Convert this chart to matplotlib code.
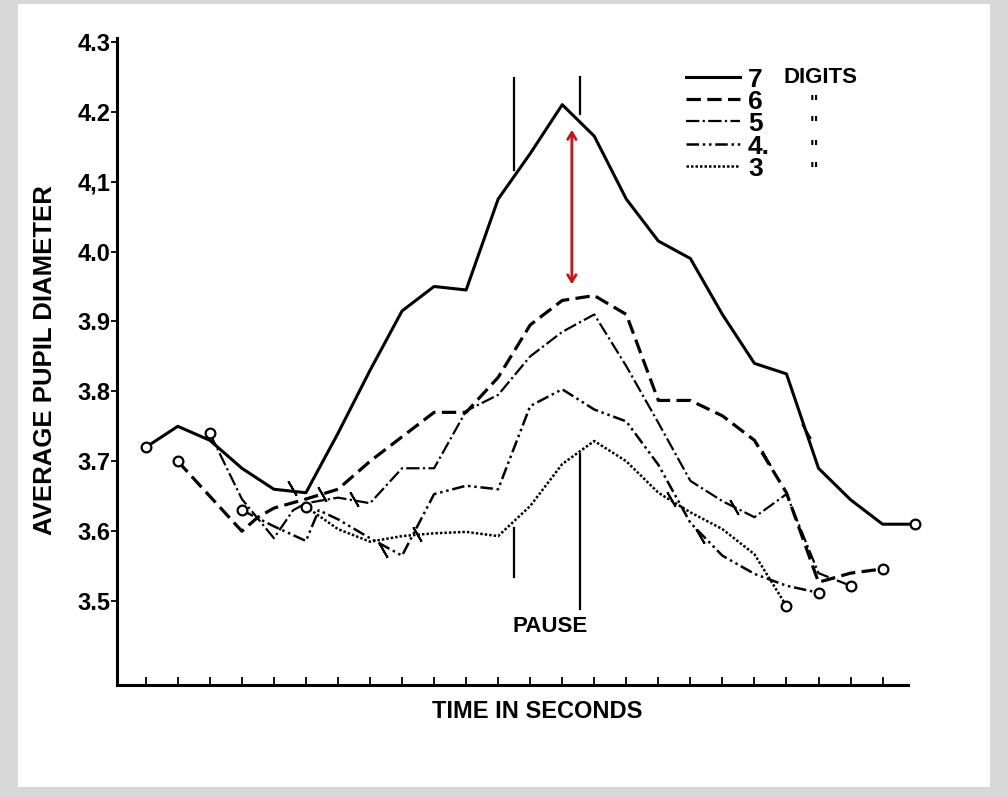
import matplotlib
matplotlib.use("Agg")
import matplotlib.pyplot as plt

# time axis positions (seconds) and the five curves
x7 = list(range(0, 25))
y7 = [3.72, 3.75, 3.73, 3.69, 3.66, 3.655, 3.74, 3.83, 3.915, 3.95, 3.945, 4.075, 4.14,
      4.21, 4.165, 4.075, 4.015, 3.99, 3.91, 3.84, 3.825, 3.69, 3.645, 3.61, 3.61]
x6 = [1, 2, 3, 3.5, 4, 5] + list(range(6, 24))
y6 = [3.70, 3.65, 3.60, 3.62, 3.633, 3.646, 3.66, 3.70, 3.735, 3.77, 3.77, 3.82, 3.895,
      3.93, 3.937, 3.91, 3.787, 3.787, 3.765, 3.73, 3.655, 3.527, 3.54, 3.546]
x5 = [2, 3, 4, 4.6, 5] + list(range(6, 23))
y5 = [3.74, 3.646, 3.59, 3.63, 3.64, 3.648, 3.64, 3.69, 3.69, 3.772, 3.795, 3.85, 3.885,
      3.91, 3.836, 3.755, 3.672, 3.643, 3.62, 3.653, 3.54, 3.522]
x4 = [3, 4, 5, 5.4] + list(range(6, 22))
y4 = [3.63, 3.607, 3.586, 3.63, 3.617, 3.59, 3.565, 3.653, 3.665, 3.66, 3.779, 3.803,
      3.774, 3.757, 3.695, 3.612, 3.565, 3.539, 3.522, 3.512]
x3 = list(range(5, 21))
y3 = [3.635, 3.603, 3.585, 3.593, 3.597, 3.599, 3.593, 3.636, 3.696, 3.729, 3.70,
      3.655, 3.627, 3.603, 3.567, 3.493]

# small cross bars drawn on each curve
bars7 = [(4.55, 3.662), (20.6, 3.744)]
bars6 = [(5.5, 3.653), (19.35, 3.704)]
bars5 = [(6.5, 3.646), (18.35, 3.634)]
bars4 = [(7.4, 3.573), (17.3, 3.593)]
bars3 = [(8.46, 3.596), (16.4, 3.646)]

yticks = [3.5, 3.6, 3.7, 3.8, 3.9, 4.0, 4.1, 4.2, 4.3]
ytick_labels = ["3.5", "3.6", "3.7", "3.8", "3.9", "4.0", "4,1", "4.2", "4.3"]
legend_labels = ["7", "6", "5", "4.", "3"]

pause_x = [11.5, 13.55]
arrow_x = 13.3
arrow_y = (4.174, 3.953)

plt.rcParams["font.family"] = ["Liberation Sans", "DejaVu Sans"]
plt.rcParams["font.weight"] = "bold"

fig = plt.figure(figsize=(10.08, 7.97), dpi=100)
fig.patch.set_facecolor("#d8d8d8")
bg = fig.add_axes([18 / 1008, 0.012, 972 / 1008, 0.983], zorder=-5)
bg.set_facecolor("white")
bg.set_xticks([])
bg.set_yticks([])
for s in bg.spines.values():
    s.set_visible(False)

ax = fig.add_axes([0.116, 0.1405, 0.785, 0.8115])
ax.set_facecolor("none")

styles = {
    "7": dict(ls="-", lw=2.2),
    "6": dict(ls=(0, (4.5, 2)), lw=2.3),
    "5": dict(ls=(0, (6, 1.5, 1, 1.5)), lw=1.6),
    "4": dict(ls=(0, (5, 1.5, 1, 1.5, 1, 1.5)), lw=1.8),
    "3": dict(ls=(0, (1, 0.8)), lw=1.8),
}
series = [("7", x7, y7, bars7), ("6", x6, y6, bars6), ("5", x5, y5, bars5),
          ("4", x4, y4, bars4), ("3", x3, y3, bars3)]

for name, xs, ys, bars in series:
    ax.plot(xs, ys, color="black", clip_on=False, **styles[name])
    ax.plot([xs[0], xs[-1]], [ys[0], ys[-1]], ls="none", marker="o", ms=7,
            mfc="white", mec="black", mew=1.6, clip_on=False, zorder=4)
    for bx, by in bars:
        ax.plot(bx, by, marker=(2, 2, 30), ms=12, mec="black", mew=1.4)

# pause markers
ax.plot([pause_x[0]] * 2, [4.248, 4.117], color="black", lw=1.6)
ax.plot([pause_x[1]] * 2, [4.25, 4.196], color="black", lw=1.6)
ax.plot([pause_x[0]] * 2, [3.605, 3.534], color="black", lw=1.6)
ax.plot([pause_x[1]] * 2, [3.71, 3.489], color="black", lw=1.6)
ax.text(11.45, 3.463, "PAUSE", fontsize=16, ha="left", va="center")

ax.annotate("", xy=(arrow_x, arrow_y[1]), xytext=(arrow_x, arrow_y[0]),
            arrowprops=dict(arrowstyle="<->,head_length=0.5,head_width=0.3",
                            color="#c4161c", lw=2.0, shrinkA=0, shrinkB=0))

# legend drawn by hand
leg_y = [4.25, 4.218, 4.187, 4.154, 4.122]
for (name, xs, ys, bars), ly, lab in zip(series, leg_y, legend_labels):
    ax.plot([16.85, 18.55], [ly, ly], color="black", **styles[name])
    ax.text(18.8, ly - 0.004, lab, fontsize=19, ha="left", va="center")
    if name == "7":
        ax.text(19.9, ly - 0.001, "DIGITS", fontsize=16, ha="left", va="center")
    else:
        ax.text(20.85, ly - 0.006, "\"", fontsize=13, ha="center", va="center")

ax.set_xlim(-0.9, 23.8)
ax.set_ylim(3.38, 4.305)
ax.set_xticks(range(0, 24))
ax.set_xticklabels([])
ax.tick_params(axis="x", direction="in", length=6, width=1.3)
ax.set_yticks(yticks)
ax.set_yticklabels(ytick_labels, fontsize=17)
ax.tick_params(axis="y", direction="out", length=4, width=1.3, pad=0.5)
for s in ["top", "right"]:
    ax.spines[s].set_visible(False)
for s in ["left", "bottom"]:
    ax.spines[s].set_linewidth(2.2)

ax.set_xlabel("TIME IN SECONDS", fontsize=17, fontweight="bold", va="center")
ax.xaxis.set_label_coords(0.531, -0.0417)
ax.set_ylabel("AVERAGE PUPIL DIAMETER", fontsize=18.5, fontweight="bold", va="center")
ax.yaxis.set_label_coords(-0.091, 0.502)

fig.savefig("out.png", dpi=100, facecolor=fig.get_facecolor())
